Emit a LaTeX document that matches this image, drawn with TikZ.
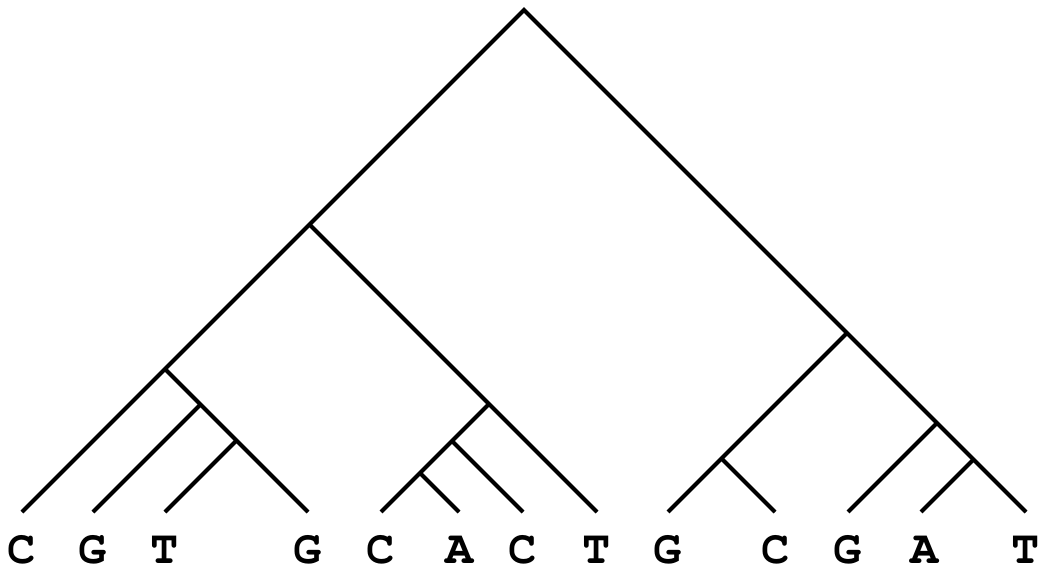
\documentclass[tikz,border=0pt]{standalone}
\usepackage[T1]{fontenc}
\newcommand{\courb}{\fontencoding{T1}\fontfamily{pcr}\fontseries{b}\fontshape{n}\fontsize{47}{47}\selectfont}
\begin{document}
\begin{tikzpicture}[x=1pt,y=-1pt,
  edge/.style={line width=4pt,line join=miter,line cap=butt},
  leaflabel/.style={anchor=base,inner sep=0pt,font=\courb}]
\useasboundingbox (0,0) rectangle (1043,569);
% internal nodes
\coordinate (root) at (524,10);
\coordinate (a) at (309.5,224.5);
\coordinate (b) at (165,369);
\coordinate (b1) at (200.5,404.5);
\coordinate (b2) at (236.5,440.5);
\coordinate (c) at (489,404);
\coordinate (c1) at (452,441);
\coordinate (c2) at (420,473);
\coordinate (r) at (847,333);
\coordinate (r1) at (721.5,458.5);
\coordinate (r2) at (937,423);
\coordinate (r3) at (973.5,459.5);
% leaves
\foreach \n/\x in {l1/22,l2/93,l3/165,l4/308,l5/381,l6/459,l7/523,l8/597,l9/668,l10/775,l11/848,l12/921,l13/1026}
  \coordinate (\n) at (\x,512);
% outer path
\draw[edge] (l1) -- (b) -- (a) -- (root) -- (r) -- (r2) -- (r3) -- (l13);
\draw[edge] (b) -- (b1) -- (b2) -- (l4);
\draw[edge] (b1) -- (l2);
\draw[edge] (b2) -- (l3);
\draw[edge] (a) -- (c) -- (l8);
\draw[edge] (c) -- (c1) -- (c2) -- (l5);
\draw[edge] (c1) -- (l7);
\draw[edge] (c2) -- (l6);
\draw[edge] (r) -- (r1) -- (l9);
\draw[edge] (r1) -- (l10);
\draw[edge] (r2) -- (l11);
\draw[edge] (r3) -- (l12);
% labels
\foreach \n/\x/\t in {t1/22/C,t2/93/G,t3/165/T,t4/308/G,t5/381/C,t6/460/A,t7/523/C,t8/597/T,t9/668/G,t10/776/C,t11/848/G,t12/925/A,t13/1026/T}
  \node[leaflabel] (\n) at (\x,563) {\t};
\end{tikzpicture}
\end{document}
